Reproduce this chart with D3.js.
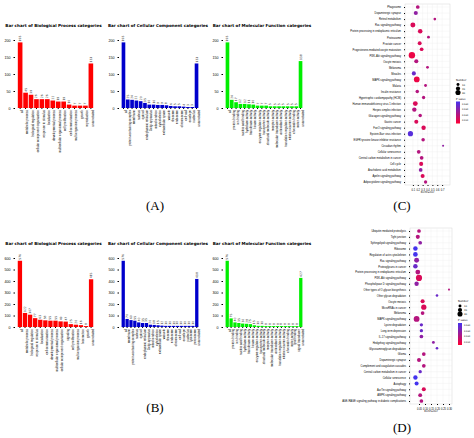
<!DOCTYPE html><html><head><meta charset="utf-8">
<script src="https://cdn.jsdelivr.net/npm/d3@7"></script>
<style>body{margin:0;background:#fff}svg{font-family:"DejaVu Sans",sans-serif}</style></head><body>
<svg id="s" width="474" height="438"></svg>
<script>
const titles=["Bar chart of Biological Process categories","Bar chart of Cellular Component categories","Bar chart of Molecular Function categories"];
const colors=["#ff0000","#0000cc","#00ee00"];
const bpCatsA=["all","metabolic process","biological regulation","cellular component organization","response to stimulus","localization","developmental process","multicellular organismal process","cell proliferation","cell communication","multi-organism process","growth","reproduction","unannotated"];
const bpValsA=[193,45,39,26,26,26,22,19,19,10,7,7,7,131];
const ccCatsA=["all","protein-containing complex","membrane","nucleus","cytosol","endoplasmic reticulum","Golgi apparatus","mitochondrion","cytoskeleton","extracellular space","vacuole","ribosome","endosome","chromosome","cell wall","envelope","nucleolus","unannotated"];
const ccValsA=[193,25,24,22,20,15,10,10,9,9,8,6,5,5,4,3,3,131];
const mfCatsA=["all","protein binding","ion binding","nucleic acid binding","hydrolase activity","transferase activity","kinase activity","enzyme regulator activity","transporter activity","structural molecule activity","receptor activity","molecular transducer activity","antioxidant activity","translation regulator activity","electron carrier activity","chromatin binding","motor activity","unannotated"];
const mfValsA=[193,24,17,12,12,11,10,7,7,7,5,5,5,5,5,5,5,138];
const bpCatsB=["all","metabolic process","biological regulation","response to stimulus","localization","cell communication","developmental process","multicellular organismal process","cellular component organization","signaling","cell proliferation","multi-organism process","locomotion","growth","unannotated"];
const bpValsB=[576,122,107,77,63,58,55,55,49,47,25,20,16,8,415];
const ccCatsB=["all","membrane","protein-containing complex","nucleus","cytosol","endoplasmic reticulum","Golgi apparatus","mitochondrion","cytoskeleton","extracellular space","vacuole","ribosome","endosome","chromosome","cell wall","envelope","nucleolus","lysosome","peroxisome","unannotated"];
const ccValsB=[576,70,60,55,40,35,35,20,18,15,12,10,10,10,10,10,10,10,10,418];
const mfCatsB=["all","protein binding","ion binding","nucleic acid binding","hydrolase activity","transferase activity","kinase activity","enzyme regulator activity","transporter activity","structural molecule activity","receptor activity","molecular transducer activity","antioxidant activity","translation regulator activity","electron carrier activity","chromatin binding","motor activity","lipid binding","signal transducer","unannotated"];
const mfValsB=[576,75,40,35,30,28,25,15,10,10,8,8,8,8,8,8,8,8,8,427];
const yTicksA=[0,50,100,150,200], yTicksB=[0,100,200,300,400,500,600];

const keggC=["Phagosome","Dopaminergic synapse","Retinol metabolism","Ras signaling pathway","Protein processing in endoplasmic reticulum","Proteasome","Prostate cancer","Progesterone-mediated oocyte maturation","PI3K-Akt signaling pathway","Oocyte meiosis","Melanoma","Measles","MAPK signaling pathway","Malaria","Insulin resistance","Hypertrophic cardiomyopathy (HCM)","Human immunodeficiency virus 1 infection","Herpes simplex infection","Glucagon signaling pathway","Gastric cancer","FoxO signaling pathway","Epstein-Barr virus infection","EGFR tyrosine kinase inhibitor resistance","Circadian rhythm","Cellular senescence","Central carbon metabolism in cancer","Cell cycle","Arachidonic acid metabolism","Apelin signaling pathway","Adipocytokine signaling pathway"];
const richC=[0.20,0.16,0.55,0.10,0.25,0.42,0.24,0.28,0.08,0.17,0.40,0.12,0.18,0.36,0.19,0.32,0.15,0.13,0.25,0.17,0.32,0.05,0.31,0.72,0.22,0.28,0.27,0.26,0.30,0.36];
const cntC=[10,12,5,18,15,6,11,10,30,12,6,12,24,6,9,8,17,14,9,12,14,20,9,3,10,10,12,10,12,8];
const pC=[0.02,0.03,0.02,0.01,0.01,0.02,0.01,0.01,0.005,0.02,0.02,0.04,0.005,0.02,0.02,0.02,0.01,0.02,0.02,0.01,0.01,0.045,0.02,0.03,0.02,0.02,0.01,0.03,0.01,0.02];
const keggD=["Ubiquitin mediated proteolysis","Tight junction","Sphingolipid signaling pathway","Ribosome","Regulation of actin cytoskeleton","Ras signaling pathway","Proteoglycans in cancer","Protein processing in endoplasmic reticulum","PI3K-Akt signaling pathway","Phospholipase D signaling pathway","Other types of O-glycan biosynthesis","Other glycan degradation","Oocyte meiosis","MicroRNAs in cancer","Melanoma","MAPK signaling pathway","Lysine degradation","Long-term depression","IL-17 signaling pathway","Hedgehog signaling pathway","Glycosaminoglycan degradation","Glioma","Dopaminergic synapse","Complement and coagulation cascades","Central carbon metabolism in cancer","Cellular senescence","Autophagy","AarTin signaling pathway","AMPK signaling pathway","AGE-RAGE signaling pathway in diabetic complications"];
const richD=[0.05,0.04,0.06,0.02,0.02,0.03,0.02,0.04,0.05,0.03,0.30,0.20,0.08,0.09,0.08,0.03,0.07,0.07,0.07,0.17,0.20,0.09,0.05,0.09,0.06,0.02,0.03,0.09,0.06,0.07];
const cntD=[10,12,10,15,16,18,15,17,28,14,3,5,12,20,10,25,8,8,10,6,5,10,12,10,8,14,12,12,11,10];
const pD=[0.02,0.02,0.03,0.05,0.05,0.03,0.04,0.02,0.01,0.03,0.02,0.04,0.01,0.01,0.02,0.02,0.04,0.04,0.03,0.03,0.04,0.02,0.02,0.02,0.04,0.05,0.05,0.01,0.02,0.02];

const svg=d3.select("#s");
function bar(x0,w,top,bottom,title,cats,vals,col,ticks){
  const g=svg.append("g");
  g.append("text").attr("x",x0+w/2-2).attr("y",top-13).attr("text-anchor","middle").attr("font-size",4.1).attr("font-weight","bold").text(title);
  const x=d3.scaleBand().domain(cats).range([x0,x0+w]).padding(0.15);
  const y=d3.scaleLinear().domain([0,ticks[ticks.length-1]]).range([bottom,top]);
  const ya=g.append("g").attr("transform",`translate(${x0-2},0)`).call(d3.axisLeft(y).tickValues(ticks).tickSize(1.5));
  ya.selectAll("text").attr("font-size",3.6);ya.select(".domain").remove();
  const xa=g.append("g").attr("transform",`translate(0,${bottom})`).call(d3.axisBottom(x).tickSize(1));
  xa.select(".domain").remove();
  xa.selectAll("text").attr("font-size",3).attr("transform","rotate(-90)").attr("text-anchor","end").attr("dx",-2).attr("dy",-x.bandwidth()/2+1);
  g.selectAll("rect").data(vals).join("rect").attr("x",(d,i)=>x(cats[i])).attr("width",x.bandwidth()).attr("y",d=>y(d)).attr("height",d=>bottom-y(d)).attr("fill",col);
  g.selectAll(".v").data(vals).join("text").attr("font-size",3).attr("fill","#333")
   .attr("transform",(d,i)=>`translate(${x(cats[i])+x.bandwidth()/2+1},${y(d)-1}) rotate(-90)`).text(d=>d);
}
const xs=[[17,77],[121,78],[225,78]];
const A=[[bpCatsA,bpValsA],[ccCatsA,ccValsA],[mfCatsA,mfValsA]];
const B=[[bpCatsB,bpValsB],[ccCatsB,ccValsB],[mfCatsB,mfValsB]];
A.forEach((d,i)=>bar(xs[i][0],xs[i][1],40,108,titles[i],d[0],d[1],colors[i],yTicksA));
B.forEach((d,i)=>bar(xs[i][0],xs[i][1],258,327,titles[i],d[0],d[1],colors[i],yTicksB));

const pcol=d3.scaleLinear().domain([0,0.05]).range(["#ff0033","#4433ee"]);
function dot(x0,x1,y0,y1,cats,rich,cnt,p,xdom,xt){
  const g=svg.append("g");
  g.append("rect").attr("x",x0).attr("y",y0).attr("width",x1-x0).attr("height",y1-y0).attr("fill","#fff").attr("stroke","#ccc").attr("stroke-width",0.4);
  const y=d3.scalePoint().domain(cats).range([y0+3,y1-3]);
  const x=d3.scaleLinear().domain(xdom).range([x0+3,x1-3]);
  cats.forEach(c=>g.append("line").attr("x1",x0).attr("x2",x1).attr("y1",y(c)).attr("y2",y(c)).attr("stroke","#eee").attr("stroke-width",0.4));
  xt.forEach(t=>g.append("line").attr("x1",x(t)).attr("x2",x(t)).attr("y1",y0).attr("y2",y1).attr("stroke","#eee").attr("stroke-width",0.4));
  const ya=g.append("g").attr("transform",`translate(${x0},0)`).call(d3.axisLeft(y).tickSize(1));
  ya.select(".domain").remove();ya.selectAll("text").attr("font-size",2.6);
  const xa=g.append("g").attr("transform",`translate(0,${y1})`).call(d3.axisBottom(x).tickValues(xt).tickSize(1));
  xa.select(".domain").remove();xa.selectAll("text").attr("font-size",2.6);
  g.append("text").attr("x",(x0+x1)/2).attr("y",y1+8).attr("font-size",2.6).attr("text-anchor","middle").text("RichFactor");
  const r=d3.scaleSqrt().domain([0,30]).range([0,3.2]);
  g.selectAll("circle").data(rich).join("circle").attr("cx",d=>x(d)).attr("cy",(d,i)=>y(cats[i])).attr("r",(d,i)=>r(cnt[i])).attr("fill",(d,i)=>pcol(p[i]));
  const lx=x1+6;
  g.append("text").attr("x",lx).attr("y",(y0+y1)/2-14).attr("font-size",2.6).text("Number");
  [10,20,30].forEach((v,i)=>{g.append("circle").attr("cx",lx+2).attr("cy",(y0+y1)/2-10+i*4).attr("r",r(v)*0.8).attr("fill","#000");
    g.append("text").attr("x",lx+6).attr("y",(y0+y1)/2-9+i*4).attr("font-size",2.4).text(v);});
  g.append("text").attr("x",lx).attr("y",(y0+y1)/2+5).attr("font-size",2.6).text("P value");
  const gid="gr"+x0;
  const lg=svg.append("defs").append("linearGradient").attr("id",gid).attr("x1",0).attr("x2",0).attr("y1",0).attr("y2",1);
  lg.append("stop").attr("offset",0).attr("stop-color","#4433ee");lg.append("stop").attr("offset",1).attr("stop-color","#ff0033");
  g.append("rect").attr("x",lx).attr("y",(y0+y1)/2+7).attr("width",4).attr("height",22).attr("fill",`url(#${gid})`);
  ["0.040","0.030","0.020","0.010"].forEach((t,i)=>g.append("text").attr("x",lx+6).attr("y",(y0+y1)/2+10+i*5.5).attr("font-size",2.2).text(t));
}
dot(405,450,4,185,keggC,richC,cntC,pC,[0,0.8],[0.1,0.2,0.3,0.4,0.5,0.6,0.7]);
dot(410,452,228,404,keggD,richD,cntD,pD,[0,0.3],[0.05,0.10,0.15,0.20,0.25,0.30]);

[["(A)",155,210],["(B)",155,412],["(C)",402,210],["(D)",402,432]].forEach(l=>svg.append("text").attr("x",l[1]).attr("y",l[2]).attr("text-anchor","middle").attr("font-family","Liberation Serif,serif").attr("font-size",13).text(l[0]));
</script></body></html>
